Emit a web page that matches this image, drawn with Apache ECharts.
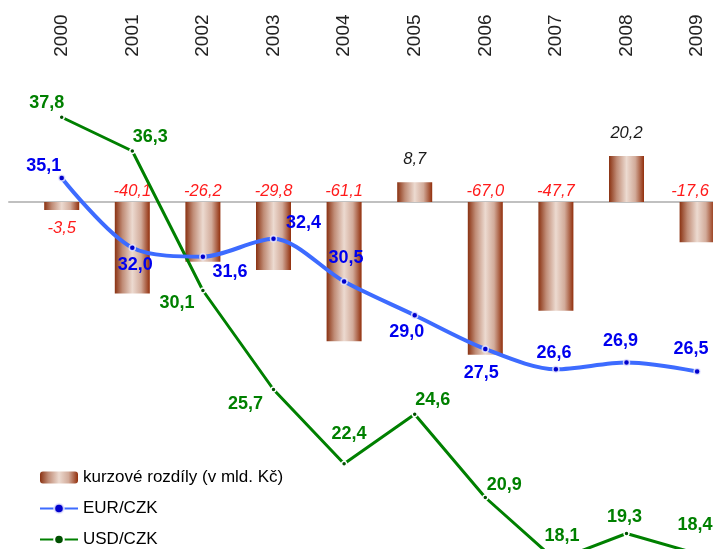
<!DOCTYPE html>
<html>
<head>
<meta charset="utf-8">
<script src="https://cdn.jsdelivr.net/npm/echarts@6/dist/echarts.min.js"></script>
<style>
  html, body { margin: 0; padding: 0; background: #fff; }
  #chart { width: 713px; height: 549px; }
</style>
</head>
<body>
<div id="chart"></div>
<script>
// data
const years = ['2000', '2001', '2002', '2003', '2004', '2005', '2006', '2007', '2008', '2009'];
const kurzoveRozdily = [-3.5, -40.1, -26.2, -29.8, -61.1, 8.7, -67.0, -47.7, 20.2, -17.6];
const eurCzk = [35.1, 32.0, 31.6, 32.4, 30.5, 29.0, 27.5, 26.6, 26.9, 26.5];
const usdCzk = [37.8, 36.3, 30.1, 25.7, 22.4, 24.6, 20.9, 18.1, 19.3, 18.4];

// label offsets from each point (px)
const eurOffsets = [[-18, -12], [3, 17], [27, 15], [30, -16], [2, -23], [-8, 17], [-4, 24], [-2, -16], [-6, -21], [-6, -22]];
const usdOffsets = [[-15, -14], [18, -14], [-26, 13], [-28, 15], [5, -30], [18, -14], [19, -12], [6, -24], [-2, -16], [-2, -29]];

// layout: the plot runs past the bottom and right edge of the picture
const gridTop = 67.75, gridHeight = 562.5;
const zeroY = 202, barPx = 2.28;
const barMax = (zeroY - gridTop) / barPx;
const barMin = barMax - gridHeight / barPx;

const fmt = v => v.toFixed(1).replace('.', ',');

const barGrad = new echarts.graphic.LinearGradient(0, 0, 1, 0, [
    { offset: 0, color: '#8a3212' },
    { offset: 0.22, color: '#c08c76' },
    { offset: 0.5, color: '#ecdad0' },
    { offset: 0.75, color: '#d2ab9a' },
    { offset: 1, color: '#922f0c' }
]);

const barData = kurzoveRozdily.map((v, i) => {
    let label;
    if (i === 0) {
        label = { position: 'bottom', distance: 10, color: '#ff1a1a' };
    } else if (v < 0) {
        label = { position: 'top', distance: 2, color: '#ff1a1a' };
    } else {
        label = { position: 'top', distance: 14, color: '#1a1a1a' };
    }
    if (i === years.length - 1) label.offset = [-7, 0];
    return { value: v, label: label };
});

const lineData = (vals, offs) => vals.map((v, i) => ({
    value: v,
    label: { offset: offs[i] }
}));

const lineLabel = color => ({
    show: true,
    position: 'inside',
    color: color,
    fontFamily: 'Liberation Sans, Arial, sans-serif',
    fontWeight: 'bold',
    fontSize: 18,
    formatter: p => fmt(p.value)
});

const chart = echarts.init(document.getElementById('chart'));
chart.setOption({
    animation: false,
    backgroundColor: '#fff',
    grid: [
        { left: 26.4, width: 706, top: gridTop, height: gridHeight, outerBoundsMode: 'none', containLabel: false },
        { left: 9, width: 720, top: gridTop, height: gridHeight, outerBoundsMode: 'none', containLabel: false }
    ],
    legend: {
        orient: 'vertical',
        left: 39,
        top: 469,
        height: 120,
        padding: 0,
        itemWidth: 38,
        itemHeight: 12,
        itemGap: 14,
        textStyle: { fontFamily: 'Liberation Sans, Arial, sans-serif', fontSize: 17, color: '#000' },
        data: ['kurzové rozdíly (v mld. Kč)', 'EUR/CZK', 'USD/CZK']
    },
    xAxis: [
        {
            type: 'category',
            gridIndex: 0,
            position: 'top',
            data: years,
            axisLine: { show: false },
            axisTick: { show: false },
            axisLabel: {
                rotate: 90,
                margin: 11,
                fontFamily: 'Liberation Sans, Arial, sans-serif',
                fontSize: 19,
                color: '#222'
            }
        },
        {
            type: 'category',
            gridIndex: 1,
            data: [''],
            axisLine: { show: true, onZero: true, lineStyle: { color: '#c0c0c0', width: 2 } },
            axisTick: { show: false },
            axisLabel: { show: false }
        }
    ],
    yAxis: [
        { type: 'value', gridIndex: 0, min: 15, max: 40, show: false },
        { type: 'value', gridIndex: 0, min: barMin, max: barMax, show: false },
        { type: 'value', gridIndex: 1, min: barMin, max: barMax, show: false }
    ],
    series: [
        {
            name: 'kurzové rozdíly (v mld. Kč)',
            type: 'bar',
            xAxisIndex: 0,
            yAxisIndex: 1,
            barWidth: 35,
            itemStyle: { color: barGrad },
            label: {
                show: true,
                fontFamily: 'Liberation Sans, Arial, sans-serif',
                fontStyle: 'italic',
                fontSize: 16.5,
                formatter: p => fmt(p.value)
            },
            data: barData,
            z: 2
        },
        {
            name: 'EUR/CZK',
            type: 'line',
            xAxisIndex: 0,
            yAxisIndex: 0,
            smooth: 0.3,
            symbol: 'circle',
            symbolSize: 6,
            lineStyle: { color: '#3d6bff', width: 4 },
            itemStyle: { color: '#0000cc', borderColor: 'rgba(235,235,255,0.85)', borderWidth: 1.5 },
            label: lineLabel('#0000ee'),
            data: lineData(eurCzk, eurOffsets),
            z: 4
        },
        {
            name: 'USD/CZK',
            type: 'line',
            xAxisIndex: 0,
            yAxisIndex: 0,
            symbol: 'circle',
            symbolSize: 5,
            lineStyle: { color: '#008000', width: 3 },
            itemStyle: { color: '#005000', borderColor: '#ffffff', borderWidth: 1.5 },
            label: lineLabel('#008000'),
            data: lineData(usdCzk, usdOffsets),
            z: 3
        }
    ]
});
</script>
</body>
</html>
